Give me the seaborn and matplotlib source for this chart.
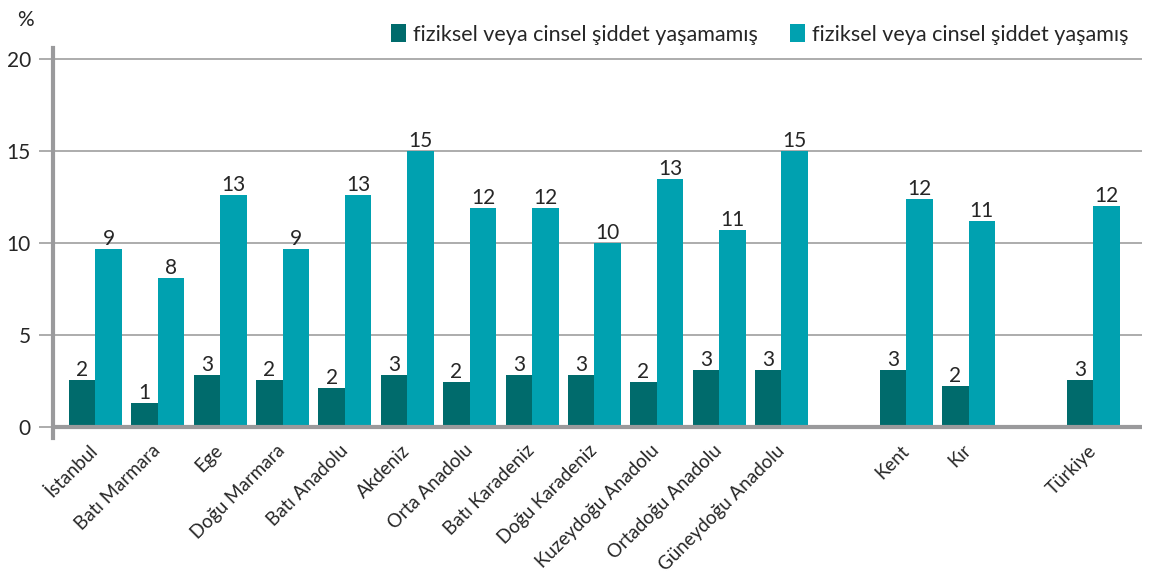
import pandas as pd
import matplotlib.pyplot as plt
import seaborn as sns

# Values (percent)
regions = ['İstanbul', 'Batı Marmara', 'Ege', 'Doğu Marmara', 'Batı Anadolu',
           'Akdeniz', 'Orta Anadolu', 'Batı Karadeniz', 'Doğu Karadeniz',
           'Kuzeydoğu Anadolu', 'Ortadoğu Anadolu', 'Güneydoğu Anadolu',
           'Kent', 'Kır', 'Türkiye']
no_violence = [2.55, 1.3, 2.8, 2.55, 2.1, 2.8, 2.45, 2.8, 2.8, 2.45, 3.1, 3.1,
               3.1, 2.2, 2.55]
violence = [9.7, 8.1, 12.6, 9.7, 12.6, 15.0, 11.9, 11.9, 10.0, 13.5, 10.7, 15.0,
            12.4, 11.2, 12.0]
no_violence_labels = ['2', '1', '3', '2', '2', '3', '2', '3', '3', '2', '3', '3',
                      '3', '2', '3']
violence_labels = ['9', '8', '13', '9', '13', '15', '12', '12', '10', '13', '11',
                   '15', '12', '11', '12']
series = ['fiziksel veya cinsel şiddet yaşamamış',
          'fiziksel veya cinsel şiddet yaşamış']

# empty slots separate regions / residence / country total
order = regions[:12] + [' '] + regions[12:14] + ['  '] + regions[14:]

df = pd.DataFrame({
    'region': regions * 2,
    'group': [series[0]] * len(regions) + [series[1]] * len(regions),
    'value': no_violence + violence,
})

sns.set_style('white')
plt.rcParams['font.family'] = ['Lato', 'DejaVu Sans']

fig = plt.figure(figsize=(11.62, 5.78), dpi=100)
ax = fig.add_axes([0.0456, 0.2422, 0.9372, 0.6748])

colors = {series[0]: '#006b6c', series[1]: '#00a1b0'}
sns.barplot(data=df, x='region', y='value', hue='group', order=order,
            hue_order=series, palette=colors, width=0.85, saturation=1,
            errorbar=None, linewidth=0, ax=ax)

ax.set_xlim(-0.68, 16.78)
ax.set_ylim(-0.6, 20.6)
ax.set_yticks([0, 5, 10, 15, 20])
for y in [5, 10, 15, 20]:
    ax.axhline(y, color='#a6a6a6', lw=1.3, zorder=0)
ax.axhline(0, color='#9a9a9c', lw=3, zorder=3)

for side in ['top', 'right', 'bottom']:
    ax.spines[side].set_visible(False)
ax.spines['left'].set_color('#9a9a9c')
ax.spines['left'].set_linewidth(3)
ax.tick_params(axis='y', length=10, width=1.3, color='#a6a6a6',
               labelsize=15, labelcolor='#262626', pad=6, left=True)
ax.tick_params(axis='x', length=0, labelsize=13.5, labelcolor='#262626', pad=7)
ax.set_xticks(range(len(order)))
ax.set_xticklabels(order, rotation=45, ha='right', va='center',
                   rotation_mode='anchor')
ax.set_xlabel('')
ax.set_ylabel('')

for cont, labels in zip(ax.containers, [no_violence_labels, violence_labels]):
    ax.bar_label(cont, labels=labels, fontsize=15, color='#262626', padding=0)

fig.text(0.015, 0.965, '%', fontsize=15, color='#262626', va='center')

handles, labels = ax.get_legend_handles_labels()
ax.legend(handles, labels, ncol=2, loc='center right', frameon=False,
          bbox_to_anchor=(1.005, 1.035), fontsize=15.5, handlelength=0.7,
          handleheight=0.9, handletextpad=0.3, columnspacing=1.5,
          labelcolor='#262626')

fig.savefig('out.png', dpi=100)
plt.close(fig)
